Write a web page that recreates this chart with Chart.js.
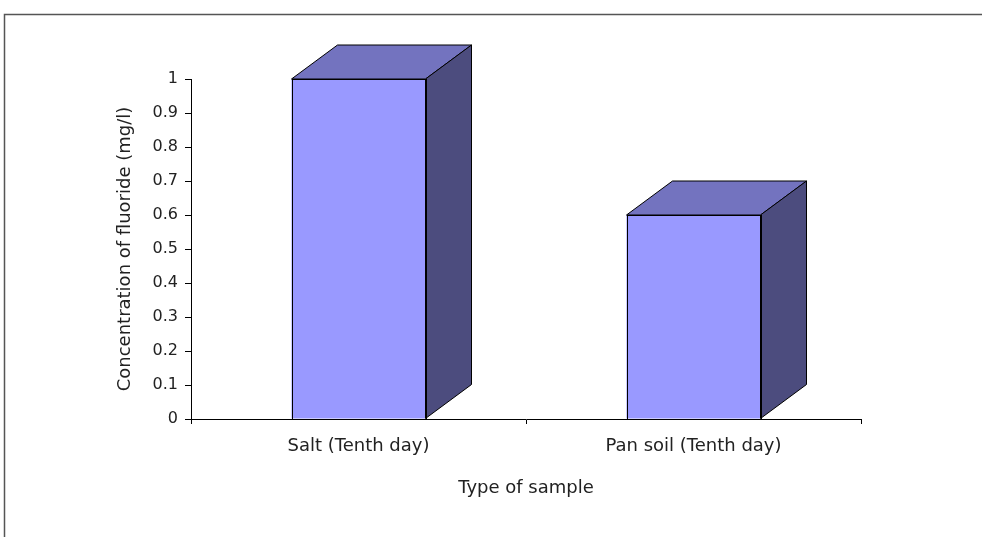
<!DOCTYPE html>
<html>
<head>
<meta charset="utf-8">
<script src="https://cdn.jsdelivr.net/npm/chart.js@4/dist/chart.umd.min.js"></script>
<style>
  html, body { margin: 0; padding: 0; background: #fff; }
  #wrap { position: relative; width: 982px; height: 537px; }
</style>
</head>
<body>
<div id="wrap"><canvas id="fluoride"></canvas></div>
<script>
var categories = ["Salt (Tenth day)", "Pan soil (Tenth day)"];
var fluorideValues = [1, 0.6];
var yMin = 0;
var yMax = 1;
var yStep = 0.1;

var FONT = "'DejaVu Sans', sans-serif";
var TEXT = "#222";

// frame around the chart, like the exported sheet
var framePlugin = {
  id: "frame",
  beforeDraw: function(chart) {
    var ctx = chart.ctx;
    ctx.save();
    ctx.fillStyle = "#fff";
    ctx.fillRect(0, 0, chart.width, chart.height);
    ctx.strokeStyle = "#555";
    ctx.lineWidth = 1.5;
    ctx.strokeRect(4.5, 14.5, chart.width + 20, chart.height + 20);
    ctx.restore();
  }
};

// fake 3d: top and side faces from the bar elements
var depthPlugin = {
  id: "depth",
  afterDatasetsDraw: function(chart) {
    var ctx = chart.ctx;
    var dx = 46, dy = 34;
    var meta = chart.getDatasetMeta(0);
    ctx.save();
    ctx.lineWidth = 1;
    ctx.strokeStyle = "#000";
    meta.data.forEach(function(bar) {
      var l = bar.x - bar.width / 2;
      var r = bar.x + bar.width / 2;
      var t = bar.y;
      var b = bar.base;
      // top
      ctx.beginPath();
      ctx.moveTo(l, t);
      ctx.lineTo(l + dx, t - dy);
      ctx.lineTo(r + dx, t - dy);
      ctx.lineTo(r, t);
      ctx.closePath();
      ctx.fillStyle = "#7373BF";
      ctx.fill();
      ctx.stroke();
      // side
      ctx.beginPath();
      ctx.moveTo(r, t);
      ctx.lineTo(r + dx, t - dy);
      ctx.lineTo(r + dx, b - dy);
      ctx.lineTo(r, b);
      ctx.closePath();
      ctx.fillStyle = "#4C4C7E";
      ctx.fill();
      ctx.stroke();
      // front outline, crisp
      ctx.strokeRect(Math.round(l) + 0.5, Math.round(t) + 0.5, Math.round(r - l), Math.round(b - t));
    });
    ctx.restore();
  }
};

var ctx = document.getElementById("fluoride").getContext("2d");
var chart = new Chart(ctx, {
  type: "bar",
  data: {
    labels: categories,
    datasets: [
      {
        data: fluorideValues,
        backgroundColor: "#9999FF",
        borderWidth: 0,
        barPercentage: 1,
        categoryPercentage: 0.4
      }
    ]
  },
  options: {
    responsive: true,
    maintainAspectRatio: false,
    animation: false,
    layout: {
      padding: { left: 115, top: 79, right: 121, bottom: 0 }
    },
    plugins: {
      legend: { display: false },
      tooltip: { enabled: false }
    },
    scales: {
      x: {
        grid: {
          offset: true,
          drawOnChartArea: false,
          drawTicks: true,
          tickLength: 5,
          color: "#000"
        },
        border: { display: true, color: "#000", width: 1 },
        ticks: {
          color: TEXT,
          font: { family: FONT, size: 18 },
          padding: 12,
          maxRotation: 0
        },
        title: {
          display: true,
          text: "Type of sample",
          color: TEXT,
          font: { family: FONT, size: 18 },
          padding: { top: 0, bottom: 38 }
        },
        afterFit: function(scale) { scale.height = 118; }
      },
      y: {
        min: yMin,
        max: yMax,
        grid: {
          drawOnChartArea: false,
          drawTicks: true,
          tickLength: 6,
          color: "#000"
        },
        border: { display: true, color: "#000", width: 1 },
        ticks: {
          stepSize: yStep,
          color: TEXT,
          font: { family: FONT, size: 16 },
          padding: 7,
          callback: function(v) { return +v.toFixed(1); }
        },
        title: {
          display: true,
          text: "Concentration of fluoride (mg/l)",
          color: TEXT,
          font: { family: FONT, size: 18 },
          padding: 0
        },
        afterFit: function(scale) { scale.width = 76; }
      }
    }
  },
  plugins: [framePlugin, depthPlugin]
});
</script>
</body>
</html>
